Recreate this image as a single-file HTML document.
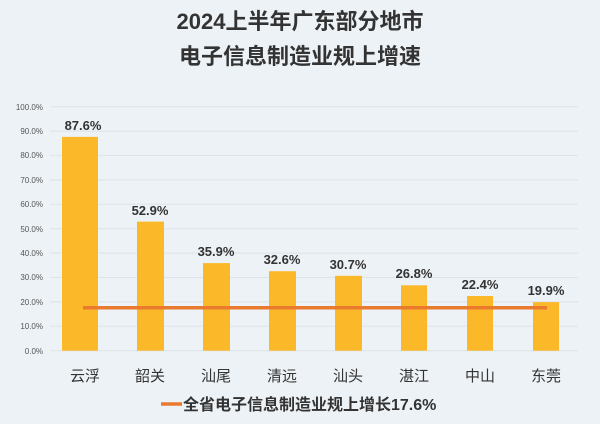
<!DOCTYPE html>
<html><head><meta charset="utf-8"><style>
body{margin:0;width:600px;height:424px;background:#edf2f6;overflow:hidden}
svg{display:block}
text{font-family:"Liberation Sans","Noto Sans CJK SC",sans-serif}
</style></head><body>
<svg width="600" height="424" viewBox="0 0 600 424">
<rect width="600" height="424" fill="#edf2f6"/>
<text x="300" y="29" text-anchor="middle" font-size="22" font-weight="bold" fill="#333">2024上半年广东部分地市</text>
<text x="300" y="64" text-anchor="middle" font-size="22" font-weight="bold" fill="#333">电子信息制造业规上增速</text>
<g stroke="#dde3e8" stroke-width="1">
<line x1="50" x2="578" y1="106.7" y2="106.7"/><line x1="50" x2="578" y1="131.1" y2="131.1"/>
<line x1="50" x2="578" y1="155.5" y2="155.5"/><line x1="50" x2="578" y1="179.9" y2="179.9"/>
<line x1="50" x2="578" y1="204.3" y2="204.3"/><line x1="50" x2="578" y1="228.7" y2="228.7"/>
<line x1="50" x2="578" y1="253.1" y2="253.1"/><line x1="50" x2="578" y1="277.5" y2="277.5"/>
<line x1="50" x2="578" y1="301.9" y2="301.9"/><line x1="50" x2="578" y1="326.3" y2="326.3"/>
<line x1="50" x2="578" y1="350.7" y2="350.7"/>
</g>
<g font-size="8" fill="#555" text-anchor="end">
<text x="43" y="110">100.0%</text><text x="43" y="134">90.0%</text><text x="43" y="158">80.0%</text>
<text x="43" y="183">70.0%</text><text x="43" y="207">60.0%</text><text x="43" y="232">50.0%</text>
<text x="43" y="256">40.0%</text><text x="43" y="280">30.0%</text><text x="43" y="305">20.0%</text>
<text x="43" y="329">10.0%</text><text x="43" y="354">0.0%</text>
</g>
<g fill="#fbb829">
<rect x="62" y="136.9" width="36" height="213.8"/>
<rect x="137" y="221.6" width="27" height="129.1"/>
<rect x="203" y="263.1" width="27" height="87.6"/>
<rect x="269" y="271.2" width="27" height="79.5"/>
<rect x="335" y="275.8" width="27" height="74.9"/>
<rect x="401" y="285.3" width="26" height="65.4"/>
<rect x="467" y="296.0" width="26" height="54.7"/>
<rect x="533" y="302.1" width="26" height="48.6"/>
</g>
<line x1="83" x2="547" y1="307.8" y2="307.8" stroke="#e97a2e" stroke-width="3.5"/>
<g font-size="13" font-weight="bold" fill="#333" text-anchor="middle">
<text x="83" y="130">87.6%</text><text x="150" y="215">52.9%</text><text x="216" y="256">35.9%</text>
<text x="282" y="264">32.6%</text><text x="348" y="269">30.7%</text><text x="414" y="278">26.8%</text>
<text x="480" y="289">22.4%</text><text x="546" y="295">19.9%</text>
</g>
<g font-size="15" fill="#333" text-anchor="middle">
<text x="85" y="381">云浮</text><text x="150" y="381">韶关</text><text x="216" y="381">汕尾</text>
<text x="282" y="381">清远</text><text x="348" y="381">汕头</text><text x="414" y="381">湛江</text>
<text x="480" y="381">中山</text><text x="546" y="381">东莞</text>
</g>
<line x1="161" x2="182" y1="404" y2="404" stroke="#e97a2e" stroke-width="3.5"/>
<text x="183" y="410" font-size="16" font-weight="bold" fill="#333">全省电子信息制造业规上增长17.6%</text>
</svg>
</body></html>
